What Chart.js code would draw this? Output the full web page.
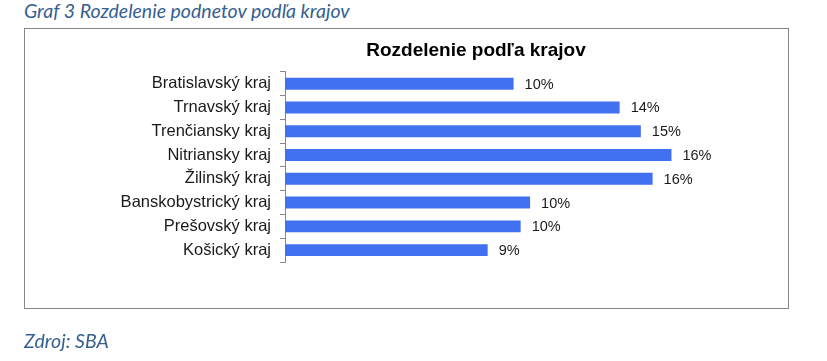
<!DOCTYPE html>
<html>
<head>
<meta charset="utf-8">
<script src="https://cdn.jsdelivr.net/npm/chart.js@4/dist/chart.umd.min.js"></script>
<style>
  body { margin: 0; background: #fff; width: 827px; height: 361px; position: relative; overflow: hidden; }
  .caption { position: absolute; left: 24px; font-family: Lato, 'Open Sans', sans-serif; font-style: italic; font-size: 19.5px; color: #365f91; white-space: nowrap; }
  #head { top: -1px; }
  #source { top: 329px; }
  #frame { position: absolute; left: 24px; top: 28px; width: 763px; height: 279px; border: 1px solid #878787; }
  #wrap { position: absolute; left: 0; top: 0; width: 827px; height: 361px; }
</style>
</head>
<body>
<div class="caption" id="head">Graf 3 Rozdelenie podnetov podľa krajov</div>
<div id="frame"></div>
<div id="wrap"><canvas id="chart" width="827" height="361"></canvas></div>
<div class="caption" id="source">Zdroj: SBA</div>
<script>
const regions = ['Bratislavský kraj', 'Trnavský kraj', 'Trenčiansky kraj', 'Nitriansky kraj',
  'Žilinský kraj', 'Banskobystrický kraj', 'Prešovský kraj', 'Košický kraj'];
// share of complaints per region, in %
const shares = [9.7, 14.2, 15.1, 16.4, 15.6, 10.4, 10.0, 8.6];
const xMax = 23;

// value labels at the end of each bar
const barLabels = {
  id: 'barLabels',
  afterDatasetsDraw(chart) {
    const ctx = chart.ctx;
    const meta = chart.getDatasetMeta(0);
    ctx.save();
    ctx.font = '14.5px Arial, "Liberation Sans", sans-serif';
    ctx.fillStyle = '#1a1a1a';
    ctx.textAlign = 'left';
    ctx.textBaseline = 'middle';
    meta.data.forEach((bar, i) => {
      ctx.fillText(Math.round(shares[i]) + '%', bar.x + 11, bar.y + 1);
    });
    ctx.restore();
  }
};

new Chart(document.getElementById('chart'), {
  type: 'bar',
  data: {
    labels: regions,
    datasets: [{
      data: shares,
      backgroundColor: '#4170f0',
      barPercentage: 0.5,
      categoryPercentage: 1
    }]
  },
  options: {
    indexAxis: 'y',
    responsive: false,
    animation: false,
    devicePixelRatio: 1,
    // negative right padding pushes the title centre to the right, like the original
    layout: { padding: { left: 105, right: -20, top: 0, bottom: 99 } },
    plugins: {
      legend: { display: false },
      tooltip: { enabled: false },
      title: {
        display: true,
        text: 'Rozdelenie podľa krajov',
        color: '#000',
        font: { family: 'Arial, "Liberation Sans", sans-serif', size: 19, weight: 'bold' },
        padding: { top: 39, bottom: 10 }
      }
    },
    scales: {
      x: { display: false, min: 0, max: xMax },
      y: {
        afterFit(scale) { scale.width = 180; },
        border: { display: true, color: '#888' },
        grid: { drawOnChartArea: false, drawTicks: true, tickLength: 5, color: '#888', offset: true },
        ticks: {
          color: '#1a1a1a',
          padding: 9,
          font: { family: 'Arial, "Liberation Sans", sans-serif', size: 16.5 }
        }
      }
    }
  },
  plugins: [barLabels]
});
</script>
</body>
</html>
